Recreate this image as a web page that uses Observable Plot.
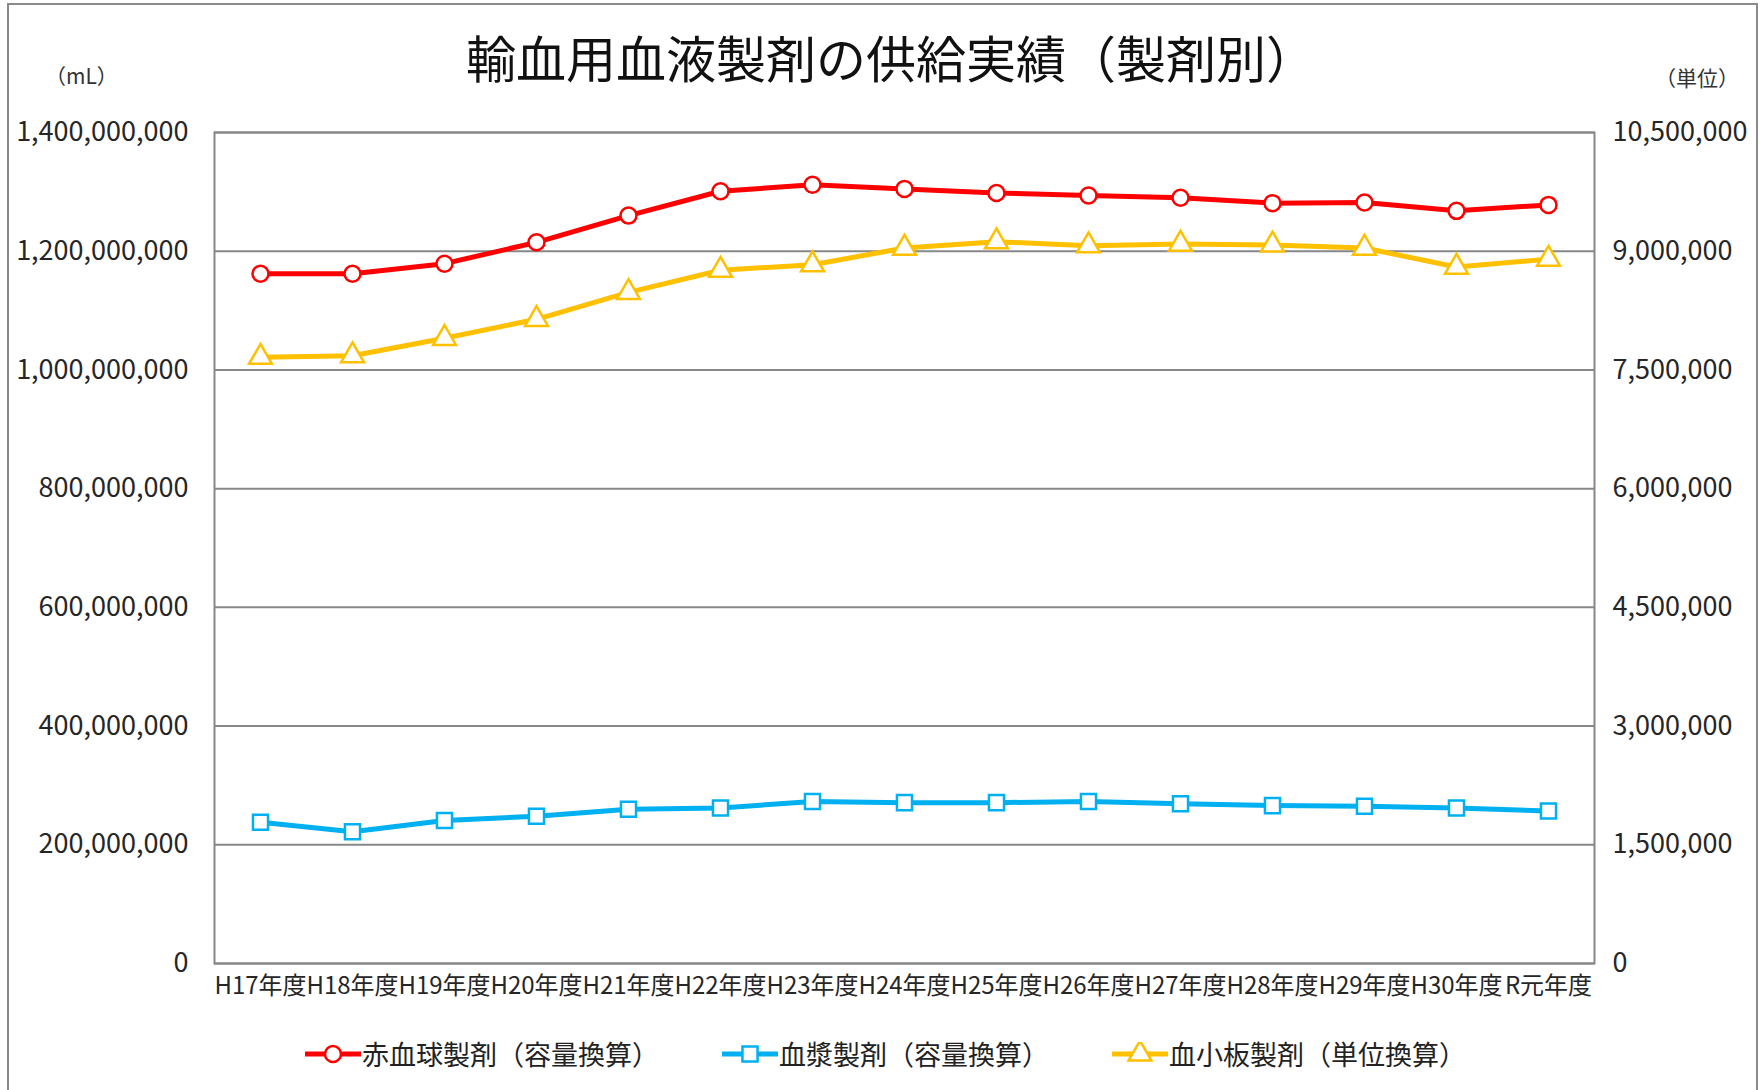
<!DOCTYPE html>
<html lang="ja">
<head>
<meta charset="utf-8">
<script src="https://cdn.jsdelivr.net/npm/d3@7"></script>
<script src="https://cdn.jsdelivr.net/npm/@observablehq/plot@0.6"></script>
<style>
  html, body { margin:0; padding:0; background:#fff; overflow:hidden; }
  #page { position:relative; width:1763px; height:1090px; font-family:"Noto Sans CJK JP","Noto Sans",sans-serif; color:#222; }
  #border { position:absolute; left:7px; top:3px; width:1751px; height:1200px; border:2px solid #8a8a8a; box-sizing:border-box; }
  #title { position:absolute; left:466px; top:22px; white-space:nowrap; font-size:50px; line-height:68px; color:#111; }
  .unit { position:absolute; font-size:21px; color:#333; line-height:28px; }
  #chart { position:absolute; left:0; top:0; }
  #legend { position:absolute; left:305px; top:1034px; display:flex; align-items:center; gap:63px; font-size:27px; color:#222; }
  .item { display:flex; align-items:center; }
  .item svg { display:block; margin-right:1px; }
</style>
</head>
<body>
<div id="page">
  <div id="border"></div>
  <div id="title">輸血用血液製剤の供給実績（製剤別）</div>
  <div class="unit" style="left:45px; top:61px;">（mL）</div>
  <div class="unit" style="left:1655px; top:63px;">（単位）</div>
  <div id="chart"></div>
  <div id="legend"></div>
</div>
<script>
// ---- data ----
const years = ["H17年度","H18年度","H19年度","H20年度","H21年度","H22年度","H23年度","H24年度","H25年度","H26年度","H27年度","H28年度","H29年度","H30年度","R元年度"];
// 赤血球製剤（容量換算） mL
const redCells = [1162e6, 1162e6, 1179e6, 1215e6, 1260e6, 1301e6, 1312e6, 1305e6, 1298e6, 1294e6, 1290e6, 1281e6, 1282e6, 1268e6, 1278e6];
// 血漿製剤（容量換算） mL
const plasma = [238e6, 222e6, 241e6, 248e6, 260e6, 262e6, 273e6, 271e6, 271e6, 273e6, 269e6, 266e6, 265e6, 262e6, 257e6];
// 血小板製剤（単位換算） units (right axis)
const platelets = [7660000, 7680000, 7900000, 8140000, 8480000, 8760000, 8830000, 9040000, 9120000, 9070000, 9090000, 9080000, 9040000, 8800000, 8900000];

const leftTicks = [0, 200e6, 400e6, 600e6, 800e6, 1000e6, 1200e6, 1400e6];
const rightTicks = [0, 1500000, 3000000, 4500000, 6000000, 7500000, 9000000, 10500000];

const seriesNames = ["赤血球製剤（容量換算）", "血漿製剤（容量換算）", "血小板製剤（単位換算）"];
const seriesColors = ["#FF0000", "#00B0F0", "#FFC000"];
const seriesSymbols = ["circle", "square", "triangle"];

// ---- scales ----
const leftMax = leftTicks[leftTicks.length - 1];
const rightMax = rightTicks[rightTicks.length - 1];
const ratio = leftMax / rightMax;
const fmt = d3.format(",");

const lw = 5;
const chart = Plot.plot({
  width: 1763,
  height: 1020,
  marginLeft: 214,
  marginRight: 169,
  marginTop: 132,
  marginBottom: 57,
  x: { type: "point", domain: years, padding: 0.5, label: null },
  y: { domain: [0, leftMax], label: null },
  style: { fontFamily: '"Noto Sans CJK JP","Noto Sans",sans-serif', color: "#262626", background: "transparent", overflow: "visible" },
  marks: [
    Plot.ruleY(leftTicks, { stroke: "#878787", strokeWidth: 2 }),
    Plot.frame({ stroke: "#878787", strokeWidth: 2 }),
    Plot.axisY({ ticks: leftTicks, tickFormat: d => fmt(d), tickSize: 0, tickPadding: 26, fontSize: 27, anchor: "left", label: null }),
    Plot.axisY({ ticks: rightTicks.map(v => v * ratio), tickFormat: d => fmt(Math.round(d / ratio)), tickSize: 0, tickPadding: 18, fontSize: 27, anchor: "right", label: null }),
    Plot.axisX({ tickSize: 0, tickPadding: 13, fontSize: 24, label: null }),
    Plot.line(redCells, { x: (d, i) => years[i], y: d => d, stroke: seriesColors[0], strokeWidth: lw }),
    Plot.dot(redCells, { x: (d, i) => years[i], y: d => d, symbol: "circle", r: 8, fill: "#fff", stroke: seriesColors[0], strokeWidth: 2.5 }),
    Plot.line(plasma, { x: (d, i) => years[i], y: d => d, stroke: seriesColors[1], strokeWidth: lw }),
    Plot.dot(plasma, { x: (d, i) => years[i], y: d => d, symbol: "square", r: 8.5, fill: "#fff", stroke: seriesColors[1], strokeWidth: 2.5 }),
    Plot.line(platelets, { x: (d, i) => years[i], y: d => d * ratio, stroke: seriesColors[2], strokeWidth: lw }),
    Plot.dot(platelets, { x: (d, i) => years[i], y: d => d * ratio, symbol: "triangle", r: 8.5, fill: "#fff", stroke: seriesColors[2], strokeWidth: 2.5 })
  ]
});
document.getElementById("chart").appendChild(chart);

// ---- legend ----
const legend = d3.select("#legend");
seriesNames.forEach((name, i) => {
  const item = legend.append("div").attr("class", "item");
  const svg = item.append("svg").attr("width", 56).attr("height", 24);
  svg.append("line").attr("x1", 0).attr("x2", 56).attr("y1", 12).attr("y2", 12)
    .attr("stroke", seriesColors[i]).attr("stroke-width", lw);
  const sym = { circle: d3.symbolCircle, square: d3.symbolSquare, triangle: d3.symbolTriangle }[seriesSymbols[i]];
  const r = i === 0 ? 8 : 8.5;
  svg.append("path").attr("transform", "translate(28,12)")
    .attr("d", d3.symbol(sym, Math.PI * r * r)())
    .attr("fill", "#fff").attr("stroke", seriesColors[i]).attr("stroke-width", 2.5);
  item.append("span").text(name);
});
</script>
</body>
</html>
